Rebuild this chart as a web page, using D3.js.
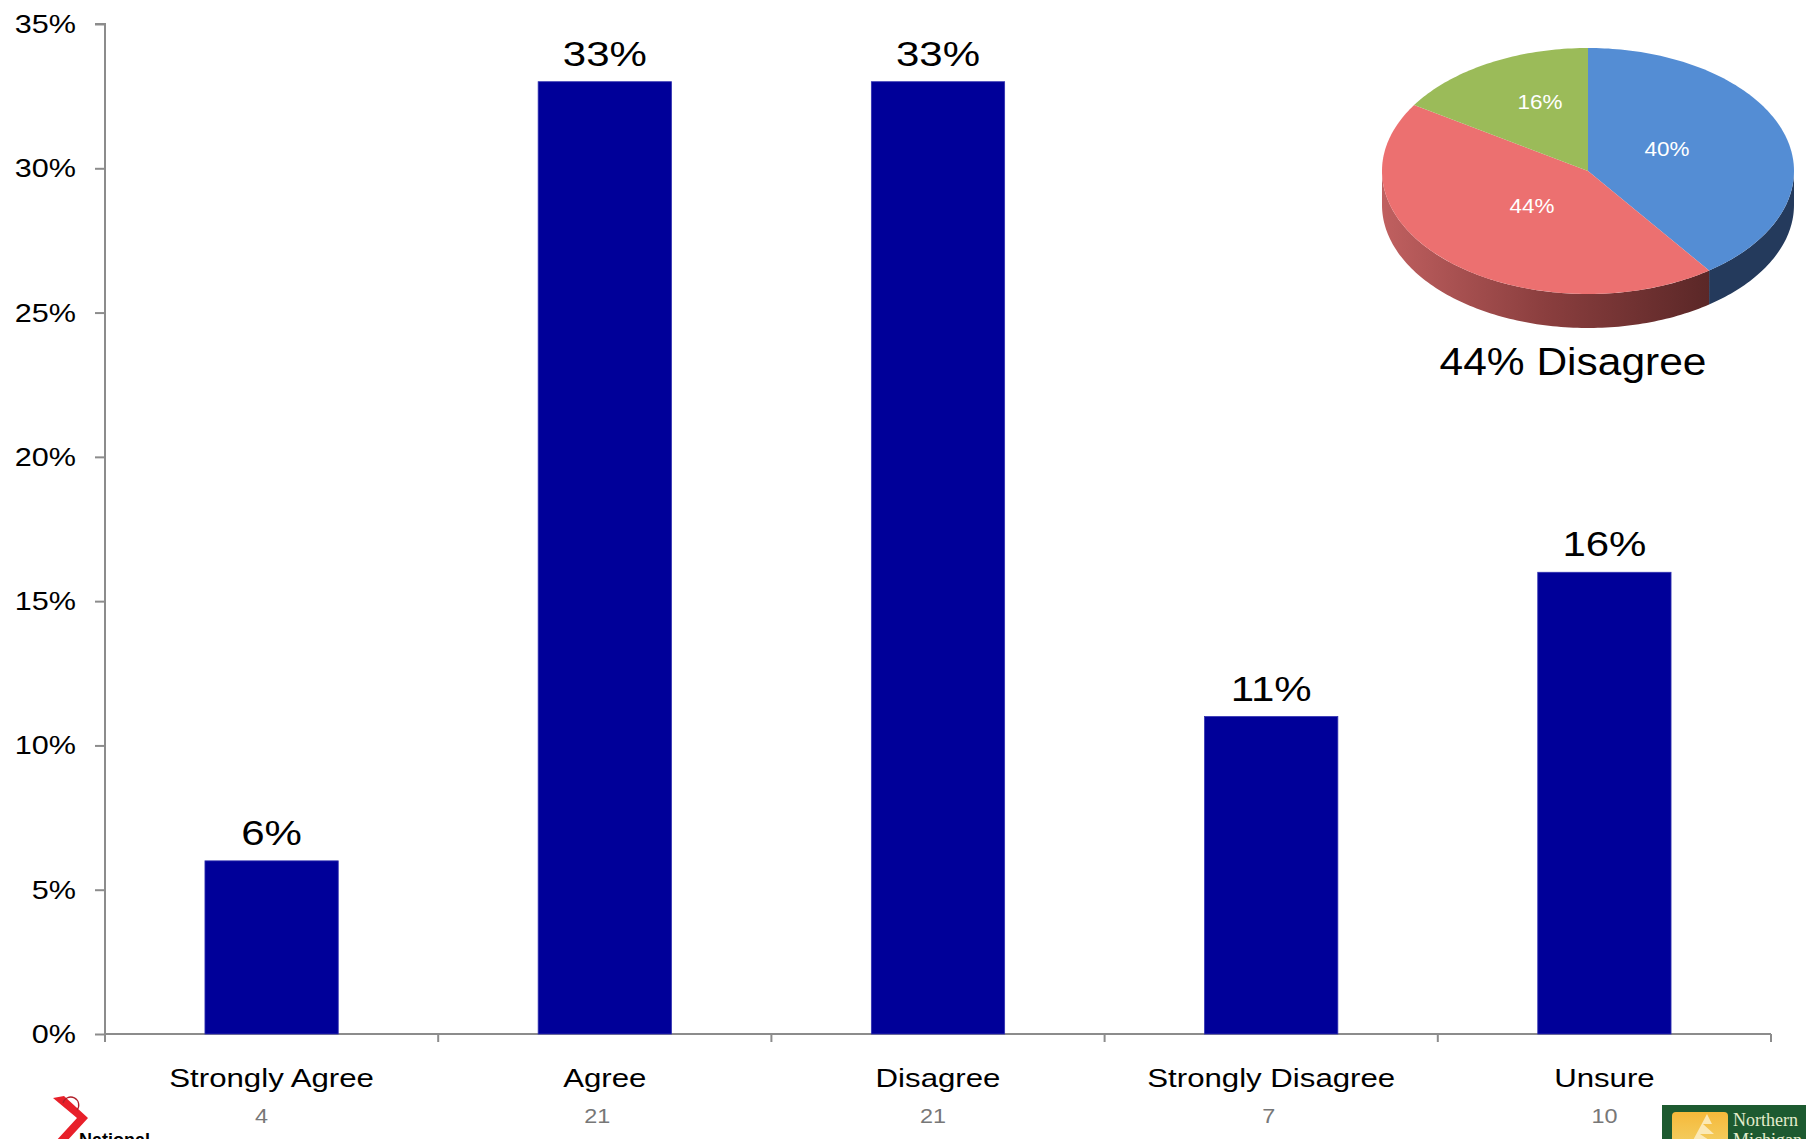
<!DOCTYPE html>
<html>
<head>
<meta charset="utf-8">
<script src="https://cdn.jsdelivr.net/npm/d3@7"></script>
<style>
  html, body { margin: 0; padding: 0; background: #ffffff; }
  svg { display: block; }
  text { font-family: "Liberation Sans", Arial, sans-serif; }
</style>
</head>
<body>
<svg id="chart" width="1806" height="1139"></svg>
<script>
// Survey responses
const categories = ["Strongly Agree", "Agree", "Disagree", "Strongly Disagree", "Unsure"];
const percents = [6, 33, 33, 11, 16];
const counts = [4, 21, 21, 7, 10];
const yTickValues = [0, 5, 10, 15, 20, 25, 30, 35];

// Summary pie
const pieGroups = ["Agree", "Disagree", "Unsure"];
const pieValues = [40, 44, 16];
const pieColors = ["#548dd4", "#ec7070", "#9bbb59"];
const pieTitle = "44% Disagree";

const svg = d3.select("#chart");
const plot = { left: 105, right: 1771, top: 24, bottom: 1034 };
const SX = 1.2; // horizontal stretch of the slide text

function sText(g, x, y, str, size, anchor, fill, sx) {
  return g.append("text")
    .attr("transform", `translate(${x},${y}) scale(${sx},1)`)
    .attr("text-anchor", anchor)
    .attr("font-size", size)
    .attr("fill", fill)
    .text(str);
}

const x = d3.scaleBand()
  .domain(categories)
  .range([plot.left, plot.right])
  .paddingInner(0.6)
  .paddingOuter(0.3);

// the count row sits a little left of the bar centres
const xCount = d3.scalePoint().domain(categories).range([261.5, 1604.5]);

const y = d3.scaleLinear().domain([0, 35]).range([plot.bottom, plot.top]);

// Y axis
const yAxisG = svg.append("g")
  .attr("transform", `translate(${plot.left},0)`)
  .call(d3.axisLeft(y).tickValues(yTickValues).tickSize(10).tickFormat(""));
yAxisG.selectAll("path, line").attr("stroke", "#8c8c8c").attr("stroke-width", 2);
yAxisG.select(".domain").attr("d", `M-10,${y(35)}H0V${y(0)}`);

yTickValues.forEach(v => {
  sText(svg, 76, y(v) + 9, v + "%", 25.5, "end", "#000", SX);
});

// X axis line with ticks on category boundaries
const step = x.step();
const bounds = d3.range(categories.length + 1).map(i => plot.left + i * step);
svg.append("line")
  .attr("x1", plot.left).attr("x2", plot.right)
  .attr("y1", y(0)).attr("y2", y(0))
  .attr("stroke", "#8c8c8c").attr("stroke-width", 2);
svg.selectAll(".xtick").data(bounds).enter().append("line")
  .attr("x1", d => d).attr("x2", d => d)
  .attr("y1", y(0)).attr("y2", y(0) + 8)
  .attr("stroke", "#8c8c8c").attr("stroke-width", 2);

// Bars
svg.selectAll(".bar").data(categories).enter().append("rect")
  .attr("x", d => x(d))
  .attr("y", (d, i) => y(percents[i]))
  .attr("width", x.bandwidth())
  .attr("height", (d, i) => y(0) - y(percents[i]))
  .attr("fill", "#000099")
  .attr("stroke", "#3030b0")
  .attr("stroke-width", 0.8);

// Value labels, category names and counts
categories.forEach((c, i) => {
  const cx = x(c) + x.bandwidth() / 2;
  sText(svg, cx, y(percents[i]) - 16, percents[i] + "%", 35, "middle", "#000", SX);
  sText(svg, cx, 1087, c, 26, "middle", "#000", SX);
  sText(svg, xCount(c), 1123, counts[i], 19.5, "middle", "#777777", SX);
});

// 3D pie
const pc = { cx: 1588, cy: 171, rx: 206, ry: 123, depth: 34 };
const arcs = d3.pie().sort(null).value(d => d)(pieValues);
const ex = a => pc.cx + pc.rx * Math.sin(a);
const ey = a => pc.cy - pc.ry * Math.cos(a);
const line = d3.line();

const defs = svg.append("defs");
const grad = defs.append("linearGradient")
  .attr("id", "redSide").attr("gradientUnits", "userSpaceOnUse")
  .attr("x1", pc.cx - pc.rx).attr("x2", pc.cx + pc.rx * 0.6)
  .attr("y1", 0).attr("y2", 0);
grad.append("stop").attr("offset", 0).attr("stop-color", "#c06060");
grad.append("stop").attr("offset", 0.5).attr("stop-color", "#8a3e3e");
grad.append("stop").attr("offset", 1).attr("stop-color", "#5a2727");
const sideFills = ["#243a5c", "url(#redSide)", "#5f7a35"];

function samples(a0, a1) {
  const n = Math.max(2, Math.ceil((a1 - a0) / 0.02));
  return d3.range(n + 1).map(k => a0 + (a1 - a0) * k / n);
}

// front walls (visible where the rim faces the viewer)
arcs.forEach((s, i) => {
  const a0 = Math.max(s.startAngle, Math.PI / 2);
  const a1 = Math.min(s.endAngle, 3 * Math.PI / 2);
  if (a1 <= a0) return;
  const ang = samples(a0, a1);
  const top = ang.map(a => [ex(a), ey(a)]);
  const bot = ang.slice().reverse().map(a => [ex(a), ey(a) + pc.depth]);
  svg.append("path")
    .attr("d", line(top.concat(bot)) + "Z")
    .attr("fill", sideFills[i]);
});

// top faces
arcs.forEach((s, i) => {
  const pts = [[pc.cx, pc.cy]].concat(samples(s.startAngle, s.endAngle).map(a => [ex(a), ey(a)]));
  svg.append("path")
    .attr("d", line(pts) + "Z")
    .attr("fill", pieColors[i]);
});

// slice labels
const labelPos = [[1667, 156], [1532, 213], [1540, 109]];
arcs.forEach((s, i) => {
  sText(svg, labelPos[i][0], labelPos[i][1], pieValues[i] + "%", 21, "middle", "#ffffff", 1.07);
});

sText(svg, 1573, 375, pieTitle, 39, "middle", "#000", 1.09);

// Footer logos
const red = svg.append("g");
red.append("path")
  .attr("d", "M53,1098 L64,1096 L88,1118 L66,1142 L55,1142 L77,1118 Z")
  .attr("fill", "#e8202a");
red.append("path")
  .attr("d", "M63,1103 A8,8 0 1 1 77,1110")
  .attr("fill", "none").attr("stroke", "#b0202a").attr("stroke-width", 1.3);
red.append("text")
  .attr("x", 79).attr("y", 1146)
  .attr("font-size", 18).attr("font-weight", "bold").attr("fill", "#000")
  .text("National");

const nmc = svg.append("g");
nmc.append("rect").attr("x", 1662).attr("y", 1105).attr("width", 144).attr("height", 40).attr("fill", "#1d5a30");
const yg = defs.append("linearGradient").attr("id", "ylw").attr("x1", 0).attr("x2", 0).attr("y1", 0).attr("y2", 1);
yg.append("stop").attr("offset", 0).attr("stop-color", "#f6b93a");
yg.append("stop").attr("offset", 1).attr("stop-color", "#f2d36a");
nmc.append("rect").attr("x", 1672).attr("y", 1112).attr("width", 56).attr("height", 40).attr("rx", 4).attr("fill", "url(#ylw)");
nmc.append("path").attr("d", "M1707,1114 L1712,1124 L1703,1124 L1714,1134 L1700,1134 L1718,1146 L1690,1146 Z")
  .attr("fill", "#fbeec8").attr("opacity", 0.85);
["Northern", "Michigan"].forEach((t, i) => {
  nmc.append("text").attr("x", 1733).attr("y", 1126 + i * 20)
    .style("font-family", "'Liberation Serif', serif")
    .attr("font-size", 18).attr("fill", "#e4eccc")
    .text(t);
});
</script>
</body>
</html>
